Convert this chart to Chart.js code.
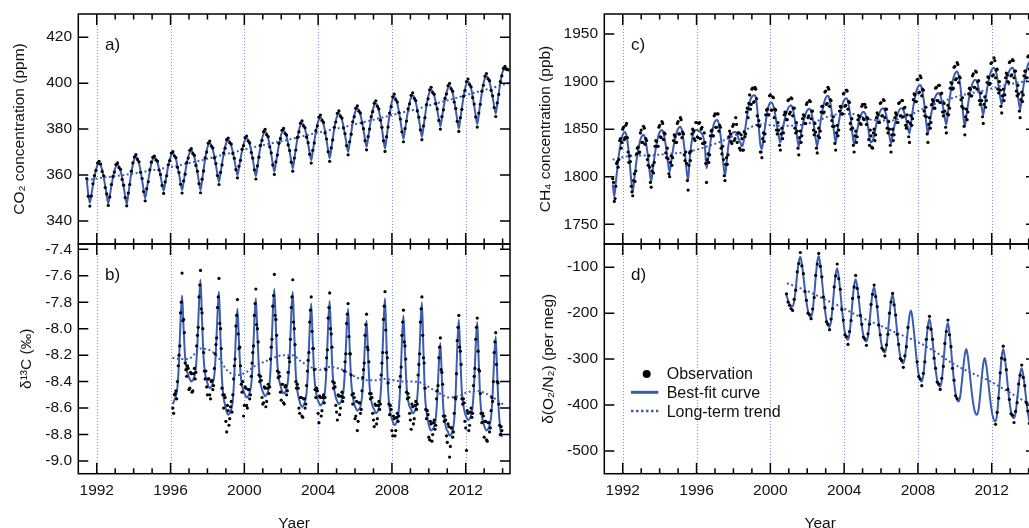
<!DOCTYPE html>
<html>
<head>
<meta charset="utf-8">
<script src="https://cdn.jsdelivr.net/npm/chart.js@4.4.1/dist/chart.umd.min.js"></script>
<style>
  html, body { margin:0; padding:0; background:#fff; }
  body { width:1029px; height:528px; overflow:hidden; position:relative; }
  canvas { position:absolute; display:block; }
</style>
</head>
<body>
<canvas id="pa" width="540" height="250" style="left:0px;top:0px"></canvas>
<canvas id="pb" width="540" height="302" style="left:0px;top:238px"></canvas>
<canvas id="pc" width="540" height="250" style="left:520px;top:0px"></canvas>
<canvas id="pd" width="540" height="302" style="left:520px;top:238px"></canvas>
<script>
// ================= DATA =================
// Shared x axis (years)
const xRange = [1991, 2014.4];
const yearTicks = [1992, 1996, 2000, 2004, 2008, 2012];

// ---- a) CO2 concentration (ppm): monthly values, first month = mid-Jun 1991 ----
const co2Start = 1991 + 5.5 / 12;
const co2Fit = [
  358, 351.5, 348, 351.4, 355.5, 359.2, 362.3,
  364.3, 365, 364.3, 362.2, 359.1, 355.3, 351.2, 347.7, 351.1, 355.1, 358.8, 361.8,
  363.8, 364.5, 363.8, 361.8, 358.7, 354.9, 350.8, 347.4, 351.5, 356.5, 361, 364.7,
  367.2, 368, 367.3, 365.1, 361.8, 357.9, 353.5, 349.9, 353.5, 357.7, 361.6, 364.9,
  367, 367.7, 367.1, 365.4, 362.8, 359.6, 356.1, 353.2, 356.4, 360.3, 363.9, 366.8,
  368.8, 369.4, 368.8, 366.9, 364, 360.5, 356.7, 353.5, 356.9, 361, 364.8, 367.9,
  369.9, 370.6, 369.9, 367.9, 364.8, 361, 356.9, 353.5, 357.6, 362.4, 366.9, 370.6,
  373, 373.8, 373.1, 371.1, 368.1, 364.4, 360.4, 357, 360.6, 365, 369, 372.3,
  374.5, 375.2, 374.6, 372.8, 370, 366.7, 363, 360, 363.2, 367, 370.6, 373.4,
  375.4, 376, 375.3, 373.4, 370.4, 366.8, 362.9, 359.6, 363.4, 368.4, 372.3, 375.7,
  378, 378.8, 378.1, 376, 372.9, 369.1, 365, 361.5, 365.1, 369.3, 373.2, 376.5,
  378.6, 379.3, 378.6, 376.7, 373.7, 370.1, 366.2, 362.9, 366.8, 371.5, 375.8, 379.4,
  381.7, 382.5, 381.9, 379.9, 377.1, 373.5, 369.7, 366.5, 370.2, 374.6, 378.7, 382,
  384.3, 385, 384.3, 382.2, 379, 375.1, 370.8, 367.3, 371.2, 375.9, 380.2, 383.7,
  386, 386.8, 386.1, 384.1, 381.1, 377.4, 373.4, 370.1, 373.9, 378.4, 382.6, 386,
  388.2, 389, 388.3, 386.3, 383.3, 379.6, 375.6, 372.3, 376.1, 380.6, 384.8, 388.2,
  390.4, 391.2, 390.4, 388.1, 384.5, 380.2, 375.5, 371.6, 376.1, 381.5, 386.4, 390.4,
  393.1, 394, 393.3, 391.1, 387.8, 383.8, 379.4, 375.8, 379.6, 384.1, 388.2, 391.6,
  393.8, 394.6, 393.9, 391.7, 388.5, 384.6, 380.3, 376.7, 380.8, 385.6, 390.1, 393.8,
  396.2, 397, 396.4, 394.5, 391.7, 388.2, 384.4, 381.3, 384.8, 389, 392.8, 395.9,
  398, 398.7, 398, 395.8, 392.4, 388.4, 384, 380.3, 384.4, 389.2, 393.7, 397.4,
  399.8, 400.6, 399.9, 397.7, 394.3, 390.3, 385.9, 382.2, 386.4, 391.4, 395.9, 399.7,
  402.2, 403, 402.4, 400.4, 397.5, 393.9, 390, 386.8, 390.8, 395.7, 400.1, 403.8,
  405.6, 406.5, 406.6, 406.3
];
const co2Obs = [
  358.5, 350.8, 346.5, 350.9, 356.2, 359.8, 362,
  365.2, 366, 364.8, 361.6, 359.7, 354.6, 351.8, 346.8, 350.5, 355.9, 359.3, 361.3,
  364.6, 365.3, 363.2, 362.5, 358.1, 355.6, 350.2, 346.6, 352.2, 355.9, 361.7, 365.3,
  367.9, 368.9, 366.8, 365.8, 361.2, 358.5, 352.8, 348.8, 354.1, 357.1, 362.3, 365.6,
  367.8, 368.3, 366.6, 366.1, 362.2, 360.3, 355.5, 352, 357, 359.7, 364.5, 366.3,
  369.6, 370.2, 368.3, 367.6, 363.4, 361.1, 356, 352.2, 357.5, 360.4, 365.4, 367.4,
  370.8, 371.5, 369.4, 368.6, 364.2, 361.7, 356.3, 352.3, 358.2, 361.8, 367.5, 370,
  373.9, 374.8, 372.6, 371.8, 367.5, 365, 359.8, 355.9, 361.2, 364.4, 369.6, 371.7,
  375.4, 376.1, 374.1, 373.5, 369.4, 367.3, 362.4, 358.8, 363.8, 366.4, 371.2, 372.8,
  376.3, 377, 374.8, 374, 369.8, 367.4, 362.3, 358.3, 364, 367.8, 372.9, 375.1,
  378.9, 379.9, 377.6, 376.7, 372.3, 369.7, 364.4, 360.3, 365.7, 368.7, 373.8, 375.9,
  379.5, 380.3, 378.1, 377.4, 373.1, 370.7, 365.6, 361.7, 367.4, 370.9, 376.4, 378.8,
  382.6, 383.6, 381.4, 380.6, 376.5, 374.1, 369.1, 365.2, 370.8, 374, 379.3, 381.4,
  385.2, 386.1, 383.8, 382.9, 378.4, 375.7, 370.2, 366, 371.8, 375.3, 380.8, 383.1,
  386.9, 387.9, 385.6, 384.8, 380.5, 378, 372.8, 368.8, 374.5, 377.8, 383.2, 385.4,
  389.1, 390.1, 387.8, 387, 382.7, 380.2, 375, 371, 376.7, 380, 385.4, 387.6,
  391.3, 392.3, 389.9, 388.8, 383.9, 380.8, 374.9, 370.3, 376.7, 380.9, 387, 389.8,
  394, 395.2, 392.8, 391.8, 387.2, 384.4, 378.8, 374.5, 380.2, 383.5, 388.8, 391,
  394.7, 395.8, 393.4, 392.4, 387.9, 385.2, 379.7, 375.4, 381.4, 385, 390.7, 393.2,
  397.1, 398.2, 395.9, 395.2, 391.1, 388.8, 383.8, 380, 385.4, 388.4, 393.4, 395.3,
  398.9, 399.9, 397.5, 396.5, 391.8, 389, 383.4, 379, 385, 388.6, 394.3, 396.8,
  400.7, 401.8, 399.4, 398.4, 393.7, 390.9, 385.3, 380.9, 387, 390.8, 396.5, 399.1,
  403.1, 404.2, 401.9, 401.1, 396.9, 394.5, 389.4, 385.5, 391.4, 395.1, 400.7, 403.2,
  406.4, 407.3, 406, 405.8
];
const co2TrendStart = 1991.45;
const co2Trend = [357.8, 359, 360, 361.3, 362.7, 364.2, 366, 368, 370, 372, 373.8, 375.5,
  377.5, 379.3, 381, 383, 385, 387, 389, 391.3, 393.5, 395.8, 398, 400.3];
const co2Ticks = [340, 360, 380, 400, 420];

// ---- b) delta13C (per mil): monthly values, first month = mid-Feb 1996 ----
const d13Start = 1996 + 1.5 / 12;
const d13Fit = [
  -8.57, -8.54, -8.51, -8.44, -8.25, -7.94, -7.75, -8.00, -8.22, -8.31, -8.35,
  -8.38, -8.40, -8.39, -8.36, -8.29, -8.11, -7.81, -7.63, -7.94, -8.22, -8.34, -8.39,
  -8.43, -8.45, -8.44, -8.41, -8.35, -8.17, -7.90, -7.72, -8.07, -8.39, -8.52, -8.58,
  -8.63, -8.65, -8.64, -8.61, -8.54, -8.35, -8.04, -7.85, -8.10, -8.33, -8.43, -8.47,
  -8.50, -8.52, -8.51, -8.48, -8.42, -8.24, -7.95, -7.77, -8.05, -8.30, -8.41, -8.46,
  -8.49, -8.51, -8.50, -8.47, -8.40, -8.20, -7.89, -7.70, -7.98, -8.27, -8.38, -8.43,
  -8.47, -8.49, -8.48, -8.45, -8.38, -8.20, -7.90, -7.72, -8.05, -8.35, -8.47, -8.53,
  -8.57, -8.59, -8.58, -8.55, -8.48, -8.29, -8.00, -7.81, -8.10, -8.36, -8.47, -8.53,
  -8.56, -8.58, -8.57, -8.54, -8.47, -8.28, -7.98, -7.79, -8.09, -8.35, -8.46, -8.52,
  -8.55, -8.57, -8.56, -8.53, -8.47, -8.30, -8.02, -7.85, -8.14, -8.40, -8.51, -8.57,
  -8.60, -8.62, -8.61, -8.59, -8.52, -8.36, -8.10, -7.94, -8.21, -8.44, -8.54, -8.59,
  -8.61, -8.64, -8.63, -8.60, -8.52, -8.31, -7.98, -7.77, -8.13, -8.46, -8.60, -8.66,
  -8.70, -8.73, -8.72, -8.69, -8.61, -8.41, -8.10, -7.90, -8.18, -8.43, -8.54, -8.59,
  -8.61, -8.64, -8.63, -8.60, -8.52, -8.32, -8.00, -7.80, -8.17, -8.50, -8.63, -8.70,
  -8.75, -8.77, -8.76, -8.74, -8.68, -8.52, -8.27, -8.11, -8.38, -8.61, -8.71, -8.76,
  -8.78, -8.81, -8.80, -8.77, -8.69, -8.48, -8.14, -7.93, -8.22, -8.48, -8.58, -8.64,
  -8.67, -8.69, -8.68, -8.65, -8.59, -8.41, -8.13, -7.95, -8.26, -8.54, -8.66, -8.71,
  -8.75, -8.77, -8.76, -8.73, -8.67, -8.50, -8.23, -8.06, -8.35, -8.62, -8.76, -8.82
];
const d13Obs = [
  -8.60, -8.50, -8.47, -8.40, -8.20, -7.88, -7.58, -7.93, -8.26, -8.36, -8.30,
  -8.45, -8.34, -8.47, -8.30, -8.33, -8.05, -7.76, -7.56, -7.88, -8.18, -8.38, -8.44,
  -8.38, -8.50, -8.40, -8.46, -8.30, -8.12, -7.84, -7.62, -8.00, -8.45, -8.60, -8.52,
  -8.78, -8.62, -8.68, -8.55, -8.50, -8.28, -7.98, -7.78, -8.15, -8.28, -8.48, -8.66,
  -8.44, -8.58, -8.46, -8.53, -8.36, -8.18, -7.90, -7.70, -8.00, -8.35, -8.36, -8.52,
  -8.56, -8.45, -8.55, -8.42, -8.44, -8.14, -7.83, -7.59, -7.93, -8.32, -8.33, -8.48,
  -8.42, -8.56, -8.44, -8.50, -8.33, -8.25, -7.84, -7.63, -8.00, -8.40, -8.42, -8.60,
  -8.52, -8.66, -8.53, -8.60, -8.43, -8.24, -7.95, -7.76, -8.15, -8.31, -8.52, -8.47,
  -8.71, -8.52, -8.62, -8.50, -8.52, -8.22, -7.92, -7.73, -8.04, -8.40, -8.41, -8.58,
  -8.69, -8.51, -8.60, -8.48, -8.52, -8.25, -7.96, -7.81, -8.19, -8.35, -8.57, -8.52,
  -8.66, -8.77, -8.56, -8.64, -8.47, -8.31, -8.05, -7.89, -8.16, -8.49, -8.49, -8.64,
  -8.74, -8.58, -8.68, -8.55, -8.57, -8.26, -7.93, -7.72, -8.18, -8.41, -8.65, -8.61,
  -8.81, -8.68, -8.77, -8.64, -8.66, -8.36, -8.05, -7.86, -8.13, -8.48, -8.49, -8.64,
  -8.76, -8.59, -8.68, -8.55, -8.57, -8.27, -7.95, -7.76, -8.22, -8.45, -8.68, -8.65,
  -8.84, -8.72, -8.80, -8.69, -8.73, -8.47, -8.22, -8.07, -8.33, -8.66, -8.66, -8.81,
  -8.72, -8.97, -8.75, -8.82, -8.64, -8.53, -8.09, -7.90, -8.17, -8.53, -8.53, -8.70,
  -8.92, -8.64, -8.73, -8.60, -8.64, -8.36, -8.08, -7.92, -8.31, -8.49, -8.71, -8.66,
  -8.70, -8.84, -8.71, -8.78, -8.62, -8.55, -8.18, -8.03, -8.40, -8.57, -8.80, -8.77
];
// second set of observations, half a month after each value above
const d13Obs2 = [
  -8.64, -8.49, -8.53, -8.28, -8.13, -7.80, -7.94, -8.03, -8.31, -8.28, -8.46,
  -8.33, -8.48, -8.34, -8.38, -8.13, -7.99, -7.67, -7.85, -8.00, -8.32, -8.32, -8.50,
  -8.38, -8.53, -8.39, -8.43, -8.19, -8.07, -7.76, -7.96, -8.15, -8.50, -8.50, -8.70,
  -8.58, -8.73, -8.59, -8.63, -8.38, -8.23, -7.90, -8.04, -8.14, -8.42, -8.40, -8.58,
  -8.45, -8.60, -8.46, -8.50, -8.26, -8.13, -7.81, -7.97, -8.10, -8.40, -8.39, -8.57,
  -8.44, -8.59, -8.45, -8.49, -8.23, -8.08, -7.75, -7.90, -8.05, -8.37, -8.36, -8.54,
  -8.42, -8.57, -8.43, -8.47, -8.22, -8.08, -7.76, -7.95, -8.12, -8.45, -8.45, -8.64,
  -8.52, -8.67, -8.53, -8.57, -8.32, -8.18, -7.86, -8.02, -8.15, -8.46, -8.45, -8.64,
  -8.51, -8.66, -8.52, -8.56, -8.31, -8.16, -7.84, -8.00, -8.14, -8.45, -8.44, -8.63,
  -8.50, -8.65, -8.51, -8.55, -8.32, -8.19, -7.89, -8.06, -8.19, -8.50, -8.49, -8.68,
  -8.55, -8.70, -8.56, -8.61, -8.37, -8.26, -7.97, -8.14, -8.25, -8.53, -8.52, -8.69,
  -8.57, -8.72, -8.58, -8.61, -8.35, -8.18, -7.83, -8.01, -8.22, -8.57, -8.58, -8.77,
  -8.66, -8.81, -8.67, -8.70, -8.44, -8.29, -7.95, -8.10, -8.23, -8.53, -8.52, -8.69,
  -8.57, -8.72, -8.58, -8.61, -8.35, -8.19, -7.85, -8.05, -8.26, -8.61, -8.62, -8.82,
  -8.70, -8.85, -8.71, -8.76, -8.53, -8.43, -8.14, -8.31, -8.42, -8.70, -8.69, -8.86,
  -8.74, -8.89, -8.75, -8.78, -8.52, -8.34, -7.99, -8.14, -8.27, -8.57, -8.56, -8.75,
  -8.62, -8.77, -8.63, -8.67, -8.43, -8.30, -7.99, -8.17, -8.32, -8.64, -8.64, -8.82,
  -8.70, -8.85, -8.71, -8.75, -8.52, -8.40, -8.10, -8.27, -8.41, -8.73, -8.74
];
const d13TrendStart = 1996.1;
const d13Trend = [-8.22, -8.23, -8.22, -8.15, -8.16, -8.22, -8.32, -8.35, -8.33, -8.28,
  -8.25, -8.22, -8.20, -8.20, -8.25, -8.29, -8.31, -8.29, -8.30, -8.33, -8.37, -8.39,
  -8.39, -8.38, -8.39, -8.40, -8.40, -8.41, -8.45, -8.49, -8.52, -8.51, -8.48, -8.47,
  -8.49, -8.53, -8.58];
const d13Ticks = [-9.0, -8.8, -8.6, -8.4, -8.2, -8.0, -7.8, -7.6, -7.4];

// ---- c) CH4 concentration (ppb): monthly values, first month = mid-Jun 1991 ----
const ch4Start = 1991 + 5.5 / 12;
const ch4Fit = [
  1792, 1779, 1794, 1809.6, 1823.2, 1833.4, 1841.6,
  1845.6, 1847, 1842.6, 1831.3, 1815.5, 1796.6, 1784, 1797.2, 1811, 1823, 1832, 1839.2,
  1842.8, 1844, 1840.6, 1831.8, 1819.5, 1804.8, 1795, 1806.9, 1819.3, 1830.1, 1838.2, 1844.7,
  1847.9, 1849, 1845.9, 1838, 1827, 1813.8, 1805, 1815.5, 1826.4, 1835.9, 1843, 1848.7,
  1851.6, 1852.5, 1848.5, 1838.4, 1824.3, 1807.3, 1796, 1818, 1833, 1843, 1847, 1849,
  1849, 1848, 1847, 1845, 1841, 1830, 1809, 1818, 1830, 1841, 1850, 1856.5,
  1859, 1859.5, 1855.4, 1844.9, 1830.3, 1812.7, 1801, 1814, 1830, 1840, 1844, 1846,
  1847, 1847, 1844, 1839, 1836, 1832, 1836, 1848, 1860, 1870, 1878, 1883,
  1885, 1885.5, 1884, 1871, 1852, 1834, 1829, 1840, 1852, 1863, 1872, 1877,
  1878, 1876.5, 1871, 1862, 1852, 1842, 1836, 1844.6, 1853.6, 1861.4, 1867.2, 1871.9,
  1874.2, 1875, 1872, 1864.3, 1853.5, 1840.6, 1832, 1840.7, 1849.8, 1857.7, 1863.6, 1868.3,
  1870.7, 1871.5, 1868.7, 1861.6, 1851.8, 1839.9, 1832, 1843.7, 1855.9, 1866.5, 1874.4, 1880.8,
  1883.9, 1885, 1881.6, 1872.8, 1860.5, 1845.8, 1836, 1846.2, 1856.9, 1866.2, 1873.2, 1878.8,
  1881.6, 1882.5, 1879.1, 1870.4, 1858.3, 1843.7, 1834, 1841, 1849, 1857, 1863, 1867,
  1868, 1867, 1862, 1853, 1841, 1836, 1838, 1843, 1851.5, 1859, 1864.6, 1869,
  1871.3, 1872, 1869.4, 1863.8, 1853.5, 1842.4, 1835, 1843.1, 1851.7, 1859, 1864.6, 1869,
  1871.3, 1872, 1870.1, 1865.4, 1858.8, 1850.8, 1845.5, 1856.7, 1868.5, 1878.7, 1886.3, 1892.4,
  1895.5, 1896.5, 1892.9, 1883.8, 1871, 1855.7, 1845.5, 1854.9, 1864.6, 1873.1, 1879.5, 1884.6,
  1887.2, 1888, 1885.7, 1879.8, 1871.5, 1861.6, 1855, 1867.2, 1880, 1891.1, 1899.4, 1906.1,
  1909.4, 1910.5, 1906.5, 1896.1, 1881.8, 1864.5, 1853, 1863.8, 1875, 1884.9, 1892.2, 1898.1,
  1901, 1902, 1899.4, 1892.8, 1883.5, 1872.4, 1865, 1875.9, 1887.3, 1897.2, 1904.6, 1910.5,
  1913.5, 1914.5, 1911.8, 1904.9, 1895.3, 1883.7, 1876, 1884.5, 1893.3, 1901, 1906.8, 1911.4,
  1913.7, 1914.5, 1911.4, 1903.5, 1892.5, 1879.3, 1870.5, 1881.7, 1893.5, 1903.7, 1911.3, 1917.4,
  1920.5, 1921.5, 1918, 1910
];
const ch4Obs = [
  1798, 1774, 1790, 1816, 1818, 1840, 1836,
  1852, 1841, 1856, 1826, 1822, 1790, 1780, 1803, 1806, 1830, 1825, 1846,
  1836, 1853, 1834, 1838, 1812, 1810, 1789, 1812, 1815, 1838, 1832, 1852,
  1842, 1858, 1839, 1845, 1820, 1819, 1800, 1822, 1820, 1844, 1836, 1856,
  1845, 1862, 1841, 1845, 1817, 1814, 1786, 1825, 1827, 1850, 1840, 1857,
  1842, 1856, 1840, 1852, 1835, 1836, 1794, 1824, 1823, 1848, 1843, 1864,
  1852, 1866, 1848, 1852, 1824, 1818, 1796, 1820, 1823, 1848, 1837, 1853,
  1838, 1862, 1836, 1846, 1828, 1840, 1828, 1842, 1868, 1862, 1886, 1876,
  1893, 1879, 1892, 1864, 1859, 1826, 1820, 1846, 1845, 1870, 1865, 1885,
  1870, 1884, 1862, 1870, 1845, 1849, 1828, 1851, 1846, 1868, 1860, 1880,
  1866, 1883, 1864, 1872, 1846, 1848, 1823, 1848, 1843, 1865, 1856, 1876,
  1862, 1880, 1861, 1869, 1844, 1847, 1825, 1851, 1848, 1874, 1867, 1889,
  1876, 1894, 1874, 1880, 1853, 1853, 1828, 1854, 1849, 1874, 1866, 1887,
  1874, 1891, 1871, 1878, 1850, 1851, 1826, 1848, 1842, 1864, 1856, 1874,
  1861, 1876, 1855, 1861, 1833, 1843, 1830, 1850, 1844, 1867, 1857, 1877,
  1864, 1881, 1862, 1871, 1846, 1850, 1826, 1850, 1844, 1867, 1857, 1877,
  1864, 1880, 1863, 1873, 1851, 1858, 1836, 1864, 1861, 1887, 1879, 1902,
  1888, 1906, 1885, 1891, 1864, 1863, 1836, 1862, 1857, 1881, 1872, 1893,
  1880, 1896, 1878, 1888, 1864, 1869, 1846, 1875, 1872, 1899, 1892, 1915,
  1902, 1920, 1899, 1904, 1874, 1872, 1844, 1871, 1868, 1893, 1885, 1906,
  1894, 1911, 1892, 1901, 1876, 1880, 1856, 1884, 1880, 1905, 1897, 1919,
  1906, 1925, 1904, 1913, 1888, 1891, 1867, 1892, 1886, 1909, 1900, 1920,
  1906, 1923, 1904, 1911, 1885, 1887, 1862, 1889, 1886, 1911, 1904, 1926,
  1913, 1930, 1911, 1918
];
// second set of observations, half a month after each value above
const ch4Obs2 = [
  1794, 1777, 1814, 1810, 1838, 1830, 1850,
  1839, 1854, 1841, 1815, 1816, 1784, 1796, 1795, 1824, 1831, 1826, 1849,
  1836, 1851, 1840, 1818, 1822, 1794, 1806, 1804, 1832, 1837, 1832, 1854,
  1841, 1856, 1846, 1825, 1830, 1803, 1815, 1812, 1838, 1842, 1836, 1858,
  1845, 1860, 1847, 1823, 1826, 1796, 1812, 1817, 1845, 1848, 1838, 1857,
  1841, 1857, 1850, 1835, 1846, 1814, 1818, 1815, 1843, 1849, 1843, 1866,
  1852, 1866, 1854, 1830, 1832, 1801, 1813, 1813, 1842, 1845, 1835, 1855,
  1840, 1855, 1846, 1830, 1844, 1828, 1847, 1845, 1872, 1877, 1871, 1892,
  1878, 1894, 1882, 1854, 1853, 1826, 1840, 1837, 1865, 1871, 1865, 1886,
  1870, 1883, 1871, 1849, 1857, 1833, 1845, 1840, 1865, 1867, 1860, 1881,
  1868, 1882, 1872, 1851, 1857, 1830, 1841, 1836, 1861, 1864, 1856, 1878,
  1864, 1879, 1869, 1849, 1856, 1830, 1843, 1841, 1868, 1874, 1868, 1890,
  1877, 1892, 1881, 1859, 1863, 1835, 1846, 1843, 1869, 1873, 1866, 1888,
  1875, 1890, 1879, 1856, 1861, 1833, 1843, 1836, 1860, 1863, 1855, 1876,
  1860, 1873, 1862, 1839, 1849, 1831, 1846, 1838, 1862, 1865, 1857, 1878,
  1864, 1880, 1871, 1851, 1858, 1833, 1844, 1838, 1862, 1865, 1857, 1878,
  1864, 1880, 1872, 1854, 1865, 1842, 1856, 1854, 1881, 1886, 1879, 1902,
  1889, 1904, 1892, 1869, 1873, 1845, 1855, 1851, 1876, 1879, 1872, 1894,
  1880, 1896, 1887, 1868, 1877, 1852, 1866, 1865, 1893, 1898, 1893, 1916,
  1903, 1918, 1905, 1881, 1883, 1853, 1863, 1860, 1887, 1892, 1885, 1908,
  1894, 1910, 1900, 1880, 1888, 1863, 1876, 1873, 1899, 1904, 1898, 1920,
  1907, 1922, 1912, 1892, 1900, 1874, 1885, 1880, 1904, 1907, 1899, 1921,
  1907, 1922, 1911, 1890, 1896, 1869, 1881, 1879, 1906, 1911, 1904, 1927,
  1914, 1928, 1918
];
const ch4TrendStart = 1991.45;
const ch4Trend = [1818, 1822, 1822.5, 1824, 1826, 1831, 1838, 1847, 1855, 1853.5, 1854, 1858,
  1865, 1866, 1860, 1859, 1864, 1873, 1880, 1886, 1890, 1895, 1899, 1902];
const ch4Ticks = [1750, 1800, 1850, 1900, 1950];

// ---- d) delta(O2/N2) (per meg): monthly values, first month = mid-Nov 2000 ----
const o2Start = 2000 + 10.5 / 12;
const o2Fit = [
  -160, -172,
  -180, -184, -185, -174.2, -147.2, -114.8, -87.8, -77, -92.8, -119.1, -149.4, -175.8,
  -195.5, -206.1, -208.7, -195.4, -162.1, -122.1, -88.8, -75.5, -94.1, -125.1, -160.7, -191.7,
  -214.9, -227.3, -230.4, -217.6, -185.5, -147.1, -115, -102.2, -120.9, -152.1, -187.9, -219,
  -242.4, -254.9, -258, -244.8, -211.8, -172.2, -139.2, -126, -142.3, -169.4, -200.6, -227.7,
  -248, -258.9, -261.6, -249.8, -220.3, -184.8, -155.3, -143.5, -160.5, -189, -221.6, -250,
  -271.3, -282.7, -285.5, -273, -241.6, -203.9, -172.6, -160, -177.9, -207.7, -242, -271.8,
  -294.1, -306, -309, -297.5, -268.8, -234.3, -205.5, -194, -212.6, -243.6, -279.3, -310.3,
  -333.5, -345.9, -349, -335.4, -301.4, -260.6, -226.6, -213, -230.6, -260, -293.9, -323.3,
  -345.3, -357.1, -360, -346.2, -311.6, -270.1, -235.5, -221.7, -242.2, -276.3, -315.5, -349.7,
  -375.2, -388.9, -392.3, -380.9, -352.4, -318.2, -289.7, -278.3, -295.5, -324.1, -356.9, -385.6,
  -407, -418.4, -421.3, -409, -378.1, -341.1, -310.2, -297.9, -314.4, -342, -373.7, -401.3,
  -422, -433, -435.8, -420, -380.7, -333.4, -294, -278.3, -296.3, -326.4, -361, -391,
  -413.6, -425.6, -428.6, -417.7, -390.5, -357.8, -330.6, -319.7, -335.1, -360.8, -390.3, -415.9,
  -435, -445, -448, -440
];
const o2Obs = [
  -158, -176,
  -183, -190, -194, -170, -150, -110, -92, -68, -97, -114, -153, -172,
  -200, -203, -212, -191, -166, -118, -93, -70, -98, -121, -165, -188,
  -219, -224, -236, -213, -190, -143, -119, -93, -125, -148, -192, -215,
  -247, -251, -268, -240, -216, -168, -143, -118, -146, -165, -205, -224,
  -252, -256, -270, -245, -224, -181, -159, -139, -164, -186, -226, -247,
  -276, -280, -293, -269, -246, -200, -176, -157, -182, -204, -246, -268,
  -299, -303, -318, -293, -273, -231, null, null, null, null, null, -306,
  -338, -343, -358, -331, -306, -257, -231, -207, -235, -257, -298, -320,
  -350, -354, -366, -342, -316, -266, -240, -215, -247, -273, -320, -346,
  -380, -386, null, null, null, null, null, null, null, null, null, null,
  null, null, null, null, null, null, null, null, null, null, null, null,
  null, null, -442, -416, -385, -330, -298, -272, -301, -323, -366, -388,
  -419, -422, -438, -414, -395, -354, -335, -313, -340, -358, -395, -413,
  -440, -442, -455, -437
];
const o2TrendStart = 2000.9;
const o2Trend = [-135, -150, -169, -188, -209, -226, -244, -261, -283, -310, -330, -348,
  -371, -394, -410];
const o2Ticks = [-500, -400, -300, -200, -100];

const legendLabels = ['Observation', 'Best-fit curve', 'Long-term trend'];

// ================= DRAWING =================
const FONT = '"Liberation Sans", Arial, Helvetica, sans-serif';
const TEXT = '#111';
const BLUE = '#3a5db2';
const GRID = 'rgba(95,115,215,0.8)';

function series(start, step, vals) {
  return vals.map((v, i) => ({ x: start + i * step, y: v }));
}

function makeDeco(p) {
  return {
    id: 'deco',
    beforeDatasetsDraw(chart) {
      const { ctx, chartArea: a, scales: { x } } = chart;
      ctx.save();
      ctx.strokeStyle = GRID; ctx.lineWidth = 1; ctx.setLineDash([1, 2]);
      yearTicks.forEach(v => {
        const px = Math.round(x.getPixelForValue(v)) + 0.5;
        ctx.beginPath(); ctx.moveTo(px, a.top); ctx.lineTo(px, a.bottom); ctx.stroke();
      });
      ctx.restore();
    },
    afterDatasetsDraw(chart) {
      const { ctx, chartArea: a, scales: { x, y } } = chart;
      ctx.save();
      ctx.setLineDash([]);
      ctx.strokeStyle = '#000'; ctx.lineWidth = 1.5;
      ctx.strokeRect(a.left, a.top, a.right - a.left, a.bottom - a.top);
      ctx.beginPath();
      for (let yr = Math.ceil(x.min); yr <= x.max; yr++) {
        const px = x.getPixelForValue(yr);
        if (px - a.left < 2 || a.right - px < 2) continue;
        const len = yr % 4 === 0 ? 11 : 5.5;
        ctx.moveTo(px, a.top); ctx.lineTo(px, a.top + len);
        ctx.moveTo(px, a.bottom); ctx.lineTo(px, a.bottom - len);
      }
      p.yTicks.forEach(v => {
        const py = y.getPixelForValue(v);
        ctx.moveTo(a.left, py); ctx.lineTo(a.left + 10, py);
        ctx.moveTo(a.right, py); ctx.lineTo(a.right - 10, py);
      });
      ctx.stroke();
      ctx.fillStyle = TEXT; ctx.textAlign = 'left'; ctx.textBaseline = 'alphabetic';
      ctx.font = '17px ' + FONT;
      ctx.fillText(p.tag, a.left + 26.7, a.top + 36);
      if (p.legend) {
        const L = a.left, T = a.top;
        ctx.fillStyle = '#000';
        ctx.beginPath(); ctx.arc(L + 42.4, T + 130, 4, 0, Math.PI * 2); ctx.fill();
        ctx.strokeStyle = BLUE; ctx.lineWidth = 3;
        ctx.beginPath(); ctx.moveTo(L + 26.7, T + 148.3); ctx.lineTo(L + 54, T + 148.3); ctx.stroke();
        ctx.lineWidth = 2.5; ctx.setLineDash([2.5, 2.5]);
        ctx.beginPath(); ctx.moveTo(L + 26.7, T + 167); ctx.lineTo(L + 54, T + 167); ctx.stroke();
        ctx.setLineDash([]);
        ctx.fillStyle = TEXT; ctx.font = '16px ' + FONT;
        ctx.fillText(legendLabels[0], L + 62.4, T + 135.3);
        ctx.fillText(legendLabels[1], L + 62.4, T + 153.5);
        ctx.fillText(legendLabels[2], L + 62.4, T + 172.5);
      }
      ctx.restore();
    }
  };
}

function zeroPad(s) { s.paddingLeft = 0; s.paddingRight = 0; s.paddingTop = 0; s.paddingBottom = 0; }

function buildChart(id, p) {
  const tickFont = { family: FONT, size: 15.5 };
  const obsStyle = { showLine: false, pointRadius: 1.6, pointHoverRadius: 0,
                     pointBackgroundColor: '#000', pointBorderWidth: 0, order: 1 };
  const datasets = [
    Object.assign({ label: legendLabels[0], data: series(p.start, 1 / 12, p.obs) }, obsStyle),
    { label: legendLabels[2], data: series(p.trendStart, p.trendStep, p.trend), showLine: true,
      pointRadius: 0, borderColor: BLUE, borderWidth: 2, borderDash: [2, 2.5],
      cubicInterpolationMode: 'monotone', order: 2 },
    { label: legendLabels[1], data: series(p.start, 1 / 12, p.fit), showLine: true,
      pointRadius: 0, borderColor: BLUE, borderWidth: 2,
      cubicInterpolationMode: 'monotone', order: 3 }
  ];
  if (p.obs2) {
    datasets.push(Object.assign({ label: legendLabels[0], data: series(p.start + 0.5 / 12, 1 / 12, p.obs2) }, obsStyle));
  }
  return new Chart(document.getElementById(id), {
    type: 'scatter',
    data: { datasets },
    options: {
      responsive: false, animation: false, devicePixelRatio: 1, events: [],
      layout: { autoPadding: false, padding: p.pad },
      plugins: { legend: { display: false }, tooltip: { enabled: false } },
      scales: {
        x: {
          type: 'linear', position: 'bottom', min: xRange[0], max: xRange[1], display: p.showX,
          grid: { display: false, drawTicks: false }, border: { display: false },
          ticks: { padding: 8.2, color: TEXT, font: tickFont, maxRotation: 0, autoSkip: false,
                   callback: v => String(v) },
          afterBuildTicks: s => { s.ticks = yearTicks.map(v => ({ value: v })); },
          afterFit: s => { s.height = p.xH; zeroPad(s); },
          title: { display: p.showX, text: p.xTitle, color: TEXT, font: tickFont,
                   padding: { top: 0, bottom: 7 } }
        },
        y: {
          type: 'linear', position: 'left', min: p.yMin, max: p.yMax,
          grid: { display: false, drawTicks: false }, border: { display: false },
          ticks: { padding: 6.3, color: TEXT, font: tickFont, callback: v => v.toFixed(p.dec) },
          afterBuildTicks: s => { s.ticks = p.yTicks.map(v => ({ value: v })); },
          afterFit: s => { s.width = p.yW; zeroPad(s); },
          title: { display: true, text: p.yTitle, color: TEXT, font: tickFont,
                   padding: { top: p.tPad, bottom: 0 } }
        }
      }
    },
    plugins: [makeDeco(p)]
  });
}

buildChart('pa', {
  start: co2Start, fit: co2Fit, obs: co2Obs, trendStart: co2TrendStart, trendStep: 1, trend: co2Trend,
  yMin: 330, yMax: 430.1, yTicks: co2Ticks, dec: 0, yTitle: 'CO\u2082 concentration (ppm)', tPad: 10.7,
  pad: { top: 14, right: 30, bottom: 6, left: 0 }, yW: 78.3, xH: 0, showX: false, xTitle: '', tag: 'a)'
});
buildChart('pb', {
  start: d13Start, fit: d13Fit, obs: d13Obs, obs2: d13Obs2, trendStart: d13TrendStart, trendStep: 0.5, trend: d13Trend,
  yMin: -9.096, yMax: -7.36, yTicks: d13Ticks, dec: 1, yTitle: '\u03b4\u00b9\u00b3C (\u2030)', tPad: 17.7,
  pad: { top: 6, right: 30, bottom: 0, left: 0 }, yW: 78.3, xH: 66.3, showX: true, xTitle: 'Yaer', tag: 'b)'
});
buildChart('pc', {
  start: ch4Start, fit: ch4Fit, obs: ch4Obs, obs2: ch4Obs2, trendStart: ch4TrendStart, trendStep: 1, trend: ch4Trend,
  yMin: 1729.3, yMax: 1971, yTicks: ch4Ticks, dec: 0, yTitle: 'CH\u2084 concentration (ppb)', tPad: 16.5,
  pad: { top: 14, right: 24, bottom: 6, left: 0 }, yW: 84.3, xH: 0, showX: false, xTitle: '', tag: 'c)'
});
buildChart('pd', {
  start: o2Start, fit: o2Fit, obs: o2Obs, trendStart: o2TrendStart, trendStep: 1, trend: o2Trend,
  yMin: -549.5, yMax: -49.5, yTicks: o2Ticks, dec: 0, yTitle: '\u03b4(O\u2082/N\u2082) (per meg)', tPad: 19,
  pad: { top: 6, right: 24, bottom: 0, left: 0 }, yW: 84.3, xH: 66.3, showX: true, xTitle: 'Year', tag: 'd)',
  legend: true
});
</script>
</body>
</html>
